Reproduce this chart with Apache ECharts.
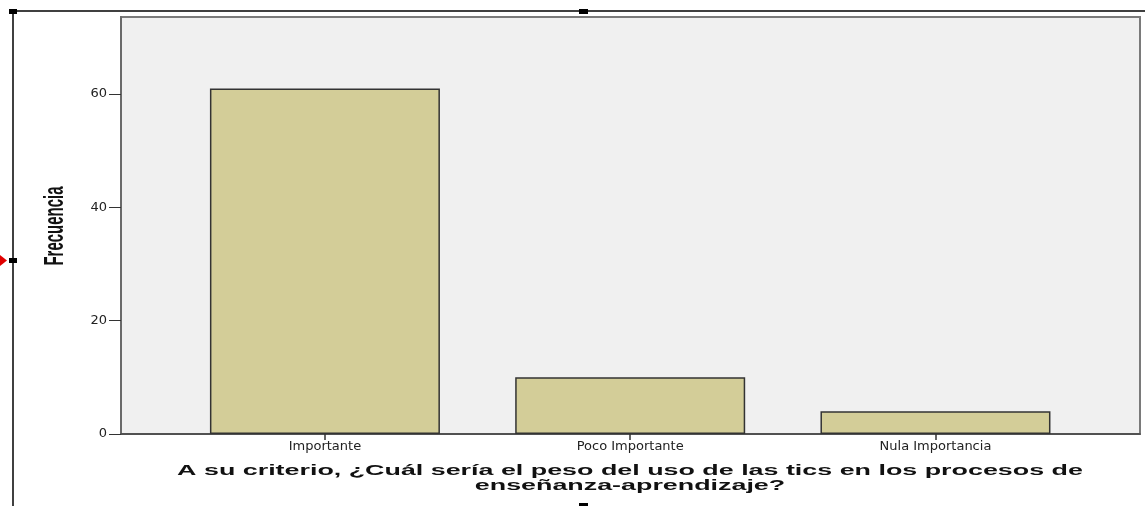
<!DOCTYPE html>
<html>
<head>
<meta charset="utf-8">
<script src="https://cdn.jsdelivr.net/npm/echarts@6/dist/echarts.min.js"></script>
<style>
html,body{margin:0;padding:0;background:#fff;}
#chart{width:1145px;height:506px;}
</style>
</head>
<body>
<div id="chart"></div>
<script>
const categories = ['Importante', 'Poco Importante', 'Nula Importancia'];
const frecuencia = [61, 10, 4];
const yTicks = [0, 20, 40, 60];
const xTitle = 'A su criterio, ¿Cuál sería el peso del uso de las tics en los procesos de\nenseñanza-aprendizaje?';
const yTitle = 'Frecuencia';

const chart = echarts.init(document.getElementById('chart'));
const catIdx = categories.map((c, i) => i);
const option = {
  animation: false,
  backgroundColor: '#ffffff',
  grid: {
    left: 121, top: 17, right: 5, bottom: 72,
    show: true, backgroundColor: '#f0f0f0', borderColor: '#7a7a7a', borderWidth: 2
  },
  xAxis: {
    type: 'value',
    min: -0.668, max: 2.670,
    splitLine: { show: false },
    axisLine: { show: true, onZero: false, lineStyle: { color: '#444', width: 1.5 } },
    axisTick: { show: true, customValues: catIdx, length: 6, inside: false, lineStyle: { color: '#333', width: 1.5 } },
    axisLabel: {
      customValues: catIdx,
      formatter: v => categories[Math.round(v)] || '',
      margin: 6, color: '#222', fontFamily: 'DejaVu Sans', fontSize: 13
    }
  },
  yAxis: {
    type: 'value',
    min: 0, max: 73.6,
    splitLine: { show: false },
    axisLine: { show: true, onZero: false, lineStyle: { color: '#6a6a6a', width: 2 } },
    axisTick: { show: true, customValues: yTicks, length: 12, inside: false, lineStyle: { color: '#333', width: 1 } },
    axisLabel: {
      customValues: yTicks,
      margin: 14, color: '#222', fontFamily: 'DejaVu Sans', fontSize: 13
    }
  },
  series: [{
    type: 'bar',
    data: frecuencia.map((v, i) => [i, v]),
    barWidth: 230,
    itemStyle: { color: '#d3cd98', borderColor: '#333', borderWidth: 1.5 }
  }],
  graphic: [
    { type: 'text', x: 630, y: 463, scaleX: 1.79,
      style: { text: xTitle, textAlign: 'center', textVerticalAlign: 'top',
               font: 'bold 15px "Liberation Sans", Arial, sans-serif', fill: '#111', lineHeight: 15 } },
    { type: 'text', x: 55, y: 226, rotation: Math.PI / 2, scaleY: 1.85,
      style: { text: yTitle, textAlign: 'center', textVerticalAlign: 'middle',
               font: 'bold 15px "Liberation Sans", Arial, sans-serif', fill: '#111' } },
    { type: 'line', shape: { x1: 10, y1: 11, x2: 1145, y2: 11 }, style: { stroke: '#000', lineWidth: 1.5 } },
    { type: 'line', shape: { x1: 13, y1: 11, x2: 13, y2: 506 }, style: { stroke: '#000', lineWidth: 1.5 } },
    { type: 'rect', shape: { x: 9, y: 9, width: 8, height: 5 }, style: { fill: '#000' } },
    { type: 'rect', shape: { x: 579, y: 9, width: 9, height: 5 }, style: { fill: '#000' } },
    { type: 'rect', shape: { x: 9, y: 258, width: 8, height: 5 }, style: { fill: '#000' } },
    { type: 'rect', shape: { x: 579, y: 503, width: 9, height: 4 }, style: { fill: '#000' } },
    { type: 'polygon', shape: { points: [[0, 255], [7, 260.5], [0, 266]] }, style: { fill: '#e00000' } }
  ]
};
chart.setOption(option);
</script>
</body>
</html>
